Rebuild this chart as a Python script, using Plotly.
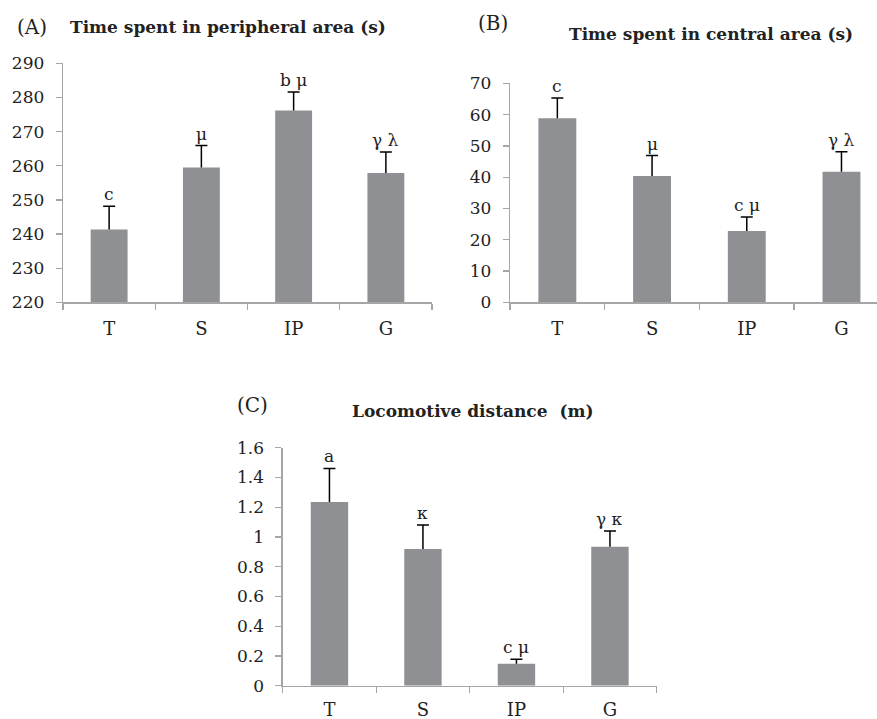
import plotly.graph_objects as go

W, H = 877, 719

categories = ["T", "S", "IP", "G"]

# Panel A: time spent in peripheral area (s)
a_values = [241.3, 259.5, 276.2, 257.9]
a_errors = [6.8, 6.4, 5.4, 6.1]
a_labels = ["c", "μ", "b μ", "γ λ"]
a_ticks = [220, 230, 240, 250, 260, 270, 280, 290]

# Panel B: time spent in central area (s)
b_values = [58.8, 40.4, 22.8, 41.7]
b_errors = [6.5, 6.5, 4.5, 6.4]
b_labels = ["c", "μ", "c μ", "γ λ"]
b_ticks = [0, 10, 20, 30, 40, 50, 60, 70]

# Panel C: locomotive distance (m)
c_values = [1.235, 0.919, 0.148, 0.934]
c_errors = [0.226, 0.161, 0.030, 0.106]
c_labels = ["a", "κ", "c μ", "γ κ"]
c_ticks = [0, 0.2, 0.4, 0.6, 0.8, 1, 1.2, 1.4, 1.6]
c_ticktext = ["0", "0.2", "0.4", "0.6", "0.8", "1", "1.2", "1.4", "1.6"]

BAR = "#8f9094"
AXIS = "#a6a6a6"
TXT = "#222222"
SERIF = "DejaVu Serif"

def px_x(p):
    return p / W

def px_y(p):
    return 1 - p / H

fig = go.Figure()

panels = [
    ("x", "y", a_values, a_errors, a_labels),
    ("x2", "y2", b_values, b_errors, b_labels),
    ("x3", "y3", c_values, c_errors, c_labels),
]
for xa, ya, vals, errs, labs in panels:
    # bars with the upward stem of the error bar (no caps)
    fig.add_trace(go.Bar(
        x=categories, y=vals, xaxis=xa, yaxis=ya, width=0.4,
        marker=dict(color=BAR, line=dict(width=0)),
        error_y=dict(type="data", symmetric=False, array=errs,
                     arrayminus=[0] * len(errs), color="black",
                     thickness=1.5, width=0),
        showlegend=False, hoverinfo="skip",
    ))
    # the cap on top of each error bar
    tops = [v + e for v, e in zip(vals, errs)]
    fig.add_trace(go.Scatter(
        x=categories, y=tops, xaxis=xa, yaxis=ya, mode="markers",
        marker=dict(size=1, opacity=0),
        error_y=dict(type="data", symmetric=True, array=[0] * len(tops),
                     color="black", thickness=1.5, width=6),
        showlegend=False, hoverinfo="skip",
    ))
    for cat, t, lab in zip(categories, tops, labs):
        fig.add_annotation(x=cat, y=t, xref=xa, yref=ya, text=lab,
                           showarrow=False, yanchor="bottom", yshift=0,
                           font=dict(family=SERIF, size=17, color=TXT))

xcommon = dict(type="category", showline=True, linecolor=AXIS, linewidth=1.3,
               ticks="outside", tickson="boundaries", ticklen=6,
               tickcolor=AXIS, tickwidth=1.3, showgrid=False, zeroline=False,
               tickfont=dict(family=SERIF, size=18, color=TXT),
               ticklabelstandoff=10, fixedrange=True, automargin=False)
ycommon = dict(showline=True, linecolor=AXIS, linewidth=1.3, ticks="outside",
               ticklen=6, tickcolor=AXIS, tickwidth=1.3, showgrid=False,
               zeroline=False, tickfont=dict(family=SERIF, size=17, color=TXT),
               ticklabelstandoff=8, fixedrange=True, automargin=False)

fig.update_layout(
    width=W, height=H, margin=dict(l=0, r=0, t=0, b=0, autoexpand=False),
    paper_bgcolor="white", plot_bgcolor="white",
    xaxis=dict(xcommon, domain=[px_x(63), px_x(432)], anchor="y",
               range=[-0.5, 3.5]),
    yaxis=dict(ycommon, domain=[px_y(302.3), px_y(63.3)], anchor="x",
               range=[220, 290], tickvals=a_ticks),
    xaxis2=dict(xcommon, domain=[px_x(510), 1.0], anchor="y2",
                range=[-0.5, 3.375]),
    yaxis2=dict(ycommon, domain=[px_y(302.3), px_y(83.3)], anchor="x2",
                range=[0, 70], tickvals=b_ticks),
    xaxis3=dict(xcommon, domain=[px_x(282.7), px_x(656.7)], anchor="y3",
                range=[-0.5, 3.5], ticklabelstandoff=7),
    yaxis3=dict(ycommon, domain=[px_y(685.7), px_y(447.7)], anchor="x3",
                range=[0, 1.6], tickvals=c_ticks, ticktext=c_ticktext),
)

texts = [
    ("(A)", 32, 27, False, "center", 20),
    ("Time spent in peripheral area (s)", 68, 27, True, "left", 17),
    ("(B)", 493, 23, False, "center", 20),
    ("Time spent in central area (s)", 711, 34, True, "center", 17),
    ("(C)", 252, 405, False, "center", 20),
    ("Locomotive distance  (m)", 472, 411, True, "center", 17),
]
for t, x, y, bold, anchor, size in texts:
    fig.add_annotation(x=px_x(x), y=px_y(y), xref="paper", yref="paper",
                       text=f"<b>{t}</b>" if bold else t, showarrow=False,
                       xanchor=anchor, yanchor="middle",
                       font=dict(family=SERIF, size=size, color=TXT))

fig.write_html(
    "out.html",
    config={"displayModeBar": False, "staticPlot": True},
    post_script="document.body.style.margin='0';document.body.style.overflow='hidden';",
)
